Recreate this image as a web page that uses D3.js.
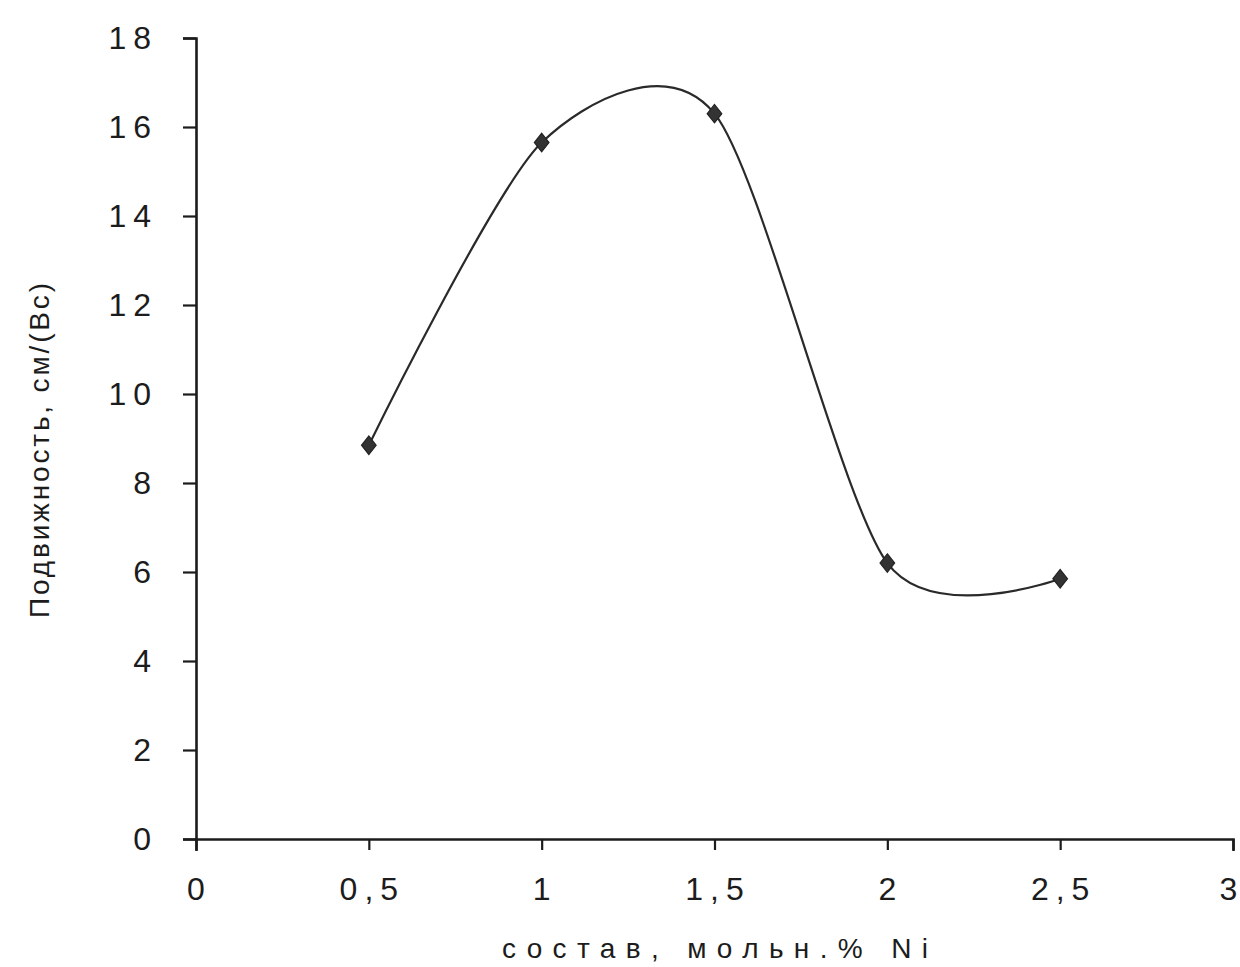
<!DOCTYPE html>
<html>
<head>
<meta charset="utf-8">
<script src="https://cdn.jsdelivr.net/npm/d3@7"></script>
<style>
  body { margin: 0; background: #fff; }
  svg { display: block; }
  .tick text { font-family: "Liberation Sans", Arial, sans-serif; }
</style>
</head>
<body>
<svg id="chart" width="1240" height="967"></svg>
<script>
// composition, mol.% Ni
var compositions = [0.5, 1, 1.5, 2, 2.5];
// mobility, cm/(V s)
var mobility = [8.85, 15.65, 16.3, 6.2, 5.85];

var xTicks = [0, 0.5, 1, 1.5, 2, 2.5, 3];
var yTicks = [0, 2, 4, 6, 8, 10, 12, 14, 16, 18];

var xTitle = "состав, мольн.% Ni";
var yTitle = "Подвижность, см/(Вс)";

var svg = d3.select("#chart");
var ink = "#1c1c1c";

var x = d3.scaleLinear().domain([0, 3]).range([196, 1233]);
var y = d3.scaleLinear().domain([0, 18]).range([839, 38]);

//comma as decimal mark
var fmt = function(d) { return String(d).replace(".", ","); };

//y axis
var yAxis = svg.append("g")
    .attr("transform", "translate(" + x(0) + ",0)")
    .call(d3.axisLeft(y).tickValues(yTicks).tickSizeInner(13).tickSizeOuter(13).tickPadding(32).tickFormat(fmt));

//x axis
var xAxis = svg.append("g")
    .attr("transform", "translate(0," + y(0) + ")")
    .call(d3.axisBottom(x).tickValues(xTicks).tickSizeInner(11).tickSizeOuter(12).tickPadding(27).tickFormat(fmt));

[yAxis, xAxis].forEach(function(ax) {
    ax.select(".domain").attr("stroke", ink).attr("stroke-width", 2.6);
    ax.selectAll(".tick line").attr("stroke", ink).attr("stroke-width", 2.2);
    ax.selectAll(".tick text")
        .attr("fill", ink)
        .style("font-size", "32px")
        .style("letter-spacing", "7px");
});

yAxis.selectAll(".tick text").attr("dy", "0.34em").attr("dx", "7px");
xAxis.selectAll(".tick text").attr("dy", "0.71em").attr("dx", "3px");
//last label sits right at the page edge
xAxis.selectAll(".tick text").filter(function(d) { return d === 3; })
    .style("letter-spacing", "0px").attr("dx", "-5px");

//smoothed line through the points
var pts = compositions.map(function(c, i) { return [c, mobility[i]]; });

var line = d3.line()
    .x(function(d) { return x(d[0]); })
    .y(function(d) { return y(d[1]); })
    .curve(d3.curveCardinal.tension(0.2));

svg.append("path")
    .datum(pts)
    .attr("fill", "none")
    .attr("stroke", "#2a2a2a")
    .attr("stroke-width", 2.2)
    .attr("d", line);

//diamond markers
var diamond = d3.symbol().type(d3.symbolDiamond).size(110);
svg.selectAll(".marker")
    .data(pts)
    .enter().append("path")
    .attr("class", "marker")
    .attr("transform", function(d) {
        return "translate(" + x(d[0]) + "," + y(d[1]) + ") scale(1.3,0.95)";
    })
    .attr("d", diamond())
    .attr("fill", "#333")
    .attr("stroke", "#222")
    .attr("stroke-width", 1);

//axis titles
svg.append("text")
    .attr("x", 502)
    .attr("y", 958)
    .attr("textLength", 426)
    .attr("lengthAdjust", "spacing")
    .attr("fill", ink)
    .style("font-family", "'Liberation Sans', Arial, sans-serif")
    .style("font-size", "28px")
    .text(xTitle);

svg.append("text")
    .attr("transform", "translate(49,618) rotate(-90)")
    .attr("x", 0)
    .attr("y", 0)
    .attr("textLength", 335)
    .attr("lengthAdjust", "spacing")
    .attr("fill", ink)
    .style("font-family", "'Liberation Sans', Arial, sans-serif")
    .style("font-size", "28px")
    .text(yTitle);
</script>
</body>
</html>
